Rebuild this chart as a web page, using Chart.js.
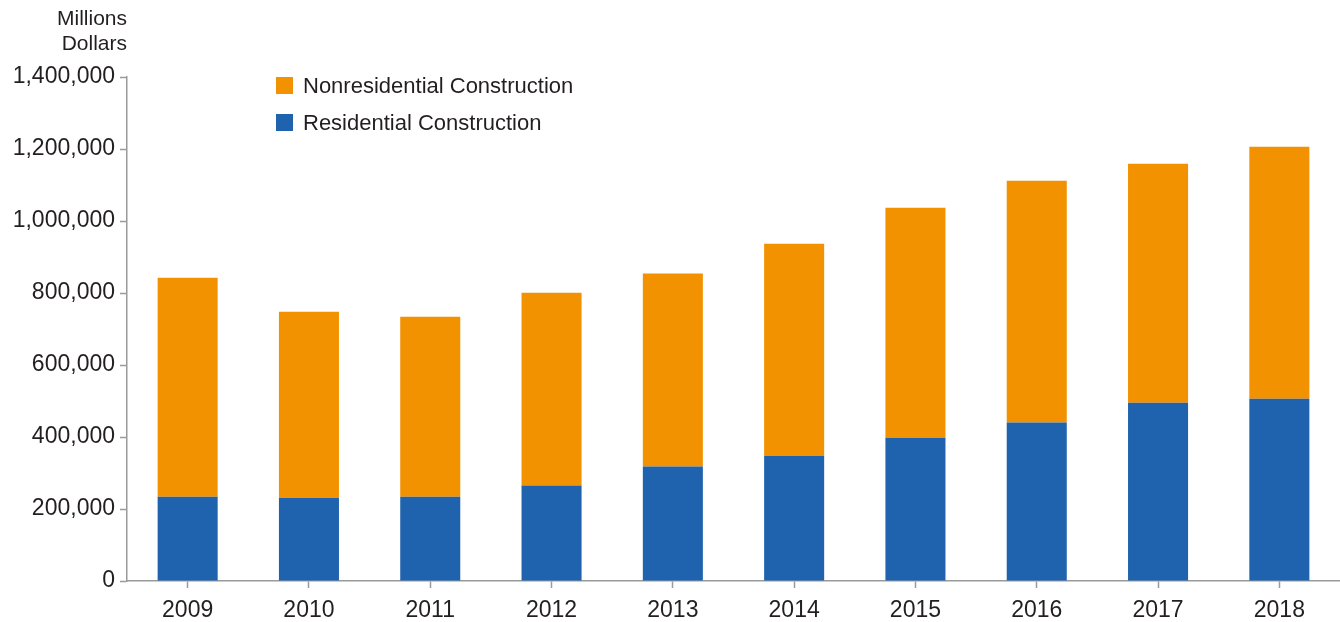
<!DOCTYPE html>
<html lang="en">
<head>
    <meta charset="UTF-8">
    <title>Construction Spending</title>
    <style>
        html, body {
            margin: 0;
            padding: 0;
            background: #ffffff;
        }

        .chart-box {
            position: relative;
            width: 1340px;
            height: 622px;
        }
    </style>
    <script src="https://cdn.jsdelivr.net/npm/chart.js"></script>
</head>
<body>
    <div class="chart-box">
        <canvas id="spendCanvas"></canvas>
    </div>

    <script>
        const years = ['2009', '2010', '2011', '2012', '2013', '2014', '2015', '2016', '2017', '2018'];
        const residential = [234000, 231000, 234000, 265000, 318000, 348000, 398000, 440000, 495000, 506000];
        const nonresidential = [608500, 517000, 500000, 536000, 536000, 589000, 639000, 672000, 664000, 700000];
        const yTicks = [0, 200000, 400000, 600000, 800000, 1000000, 1200000, 1400000];

        const FONT = "'Liberation Sans', Arial, sans-serif";
        const TEXT = '#231f20';
        const AXIS = '#9a9a9a';

        // legend boxes + unit label drawn by hand
        const extras = {
            id: 'extras',
            afterDraw(chart) {
                const ctx = chart.ctx;
                ctx.save();
                ctx.fillStyle = TEXT;
                ctx.font = '21px ' + FONT;
                ctx.textAlign = 'right';
                ctx.textBaseline = 'middle';
                ctx.fillText('Millions', 127, 19);
                ctx.fillText('Dollars', 127, 44);

                ctx.font = '22px ' + FONT;
                const items = [chart.data.datasets[1], chart.data.datasets[0]];
                items.forEach((ds, i) => {
                    const y = 77 + i * 37;
                    ctx.fillStyle = ds.backgroundColor;
                    ctx.fillRect(276, y, 17, 17);
                    ctx.fillStyle = TEXT;
                    ctx.textAlign = 'left';
                    ctx.fillText(ds.label, 303, y + 10);
                });
                ctx.restore();
            }
        };

        new Chart(document.getElementById('spendCanvas'), {
            type: 'bar',
            data: {
                labels: years,
                datasets: [
                    {
                        label: 'Residential Construction',
                        data: residential,
                        backgroundColor: '#1f63ae'
                    },
                    {
                        label: 'Nonresidential Construction',
                        data: nonresidential,
                        backgroundColor: '#f39200'
                    }
                ]
            },
            options: {
                responsive: true,
                maintainAspectRatio: false,
                animation: false,
                layout: { padding: { top: 77, right: 0, left: 0, bottom: 0 } },
                datasets: {
                    bar: { categoryPercentage: 1, barPercentage: 0.495 }
                },
                plugins: {
                    legend: { display: false },
                    tooltip: { enabled: false }
                },
                scales: {
                    x: {
                        stacked: true,
                        offset: true,
                        grid: {
                            offset: false,
                            drawOnChartArea: false,
                            drawTicks: true,
                            tickLength: 7,
                            tickWidth: 1.5,
                            tickColor: AXIS
                        },
                        border: { color: AXIS, width: 1.5 },
                        ticks: {
                            color: TEXT,
                            font: { family: FONT, size: 23 },
                            padding: 9,
                            maxRotation: 0
                        },
                        afterFit(scale) { scale.height = 41; }
                    },
                    y: {
                        stacked: true,
                        min: 0,
                        max: 1400000,
                        afterBuildTicks(scale) {
                            scale.ticks = yTicks.map(v => ({ value: v }));
                        },
                        grid: {
                            drawOnChartArea: false,
                            drawTicks: true,
                            tickLength: 7,
                            tickWidth: 1.5,
                            tickColor: AXIS
                        },
                        border: { color: AXIS, width: 1.5 },
                        ticks: {
                            color: TEXT,
                            font: { family: FONT, size: 23 },
                            padding: 5,
                            callback: v => v.toLocaleString('en-US')
                        },
                        afterFit(scale) { scale.width = 127; }
                    }
                }
            },
            plugins: [extras]
        });
    </script>
</body>
</html>
